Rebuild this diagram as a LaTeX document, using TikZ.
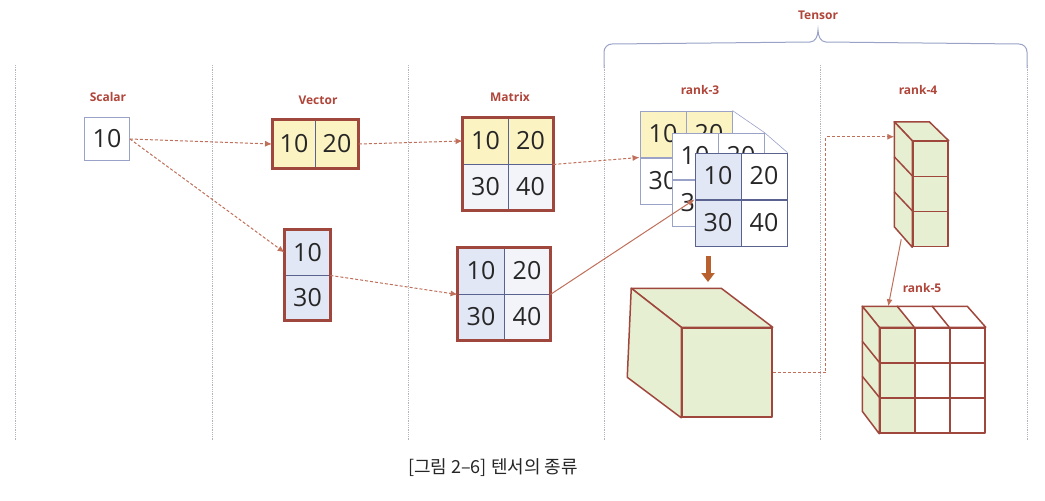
\documentclass[tikz,border=0pt]{standalone}
\usepackage{fontspec}
\setmainfont{Open Sans}
\newfontfamily\kofont{Noto Sans CJK KR}
\usetikzlibrary{arrows.meta,calc}

\definecolor{framec}{HTML}{A0473D}
\definecolor{titlec}{HTML}{B0453A}
\definecolor{cellline}{HTML}{5A6290}
\definecolor{paleline}{HTML}{9AA2C8}
\definecolor{numc}{HTML}{262626}
\definecolor{yel}{HTML}{FBF3C2}
\definecolor{blu}{HTML}{E2E7F6}
\definecolor{pale}{HTML}{F3F4F9}
\definecolor{grn}{HTML}{E6EFD2}
\definecolor{sepc}{HTML}{B4B4BE}
\definecolor{linkc}{HTML}{C0705A}
\definecolor{bigc}{HTML}{B8612F}

\tikzset{
  cell/.style={draw=cellline, line width=0.9pt, inner sep=0pt, minimum width=45pt,
    minimum height=46pt, text=numc, font=\fontsize{25}{25}\selectfont},
  frame/.style={draw=framec, line width=3pt},
  link/.style={draw=linkc, line width=1pt, densely dashed, -{Latex[length=7pt,width=6pt]}},
  title/.style={text=titlec, font=\bfseries\fontsize{12}{12}\selectfont},
  sep/.style={draw=sepc, line width=0.8pt, densely dotted},
  face/.style={draw=framec, line width=1.5pt, line join=round},
  block/.style={face, fill=grn, inner sep=0pt, minimum width=35pt, minimum height=35pt},
  ghost/.style={draw=paleline, line width=0.6pt},
  bigarrow/.style={draw=bigc, line width=5pt, -{Triangle[length=9pt,width=13pt]}}
}

\begin{document}
\begin{tikzpicture}[x=1pt,y=-1pt]
\useasboundingbox[fill=white] (0,0) rectangle (1045,501);

% separators and brace
\draw[sep] (15,65) -- (15,440);
\draw[sep] (212,65) -- (212,440);
\draw[sep] (408,65) -- (408,440);
\draw[sep] (604,65) -- (604,440);
\draw[sep] (820,65) -- (820,440);
\draw[sep] (1027,65) -- (1027,440);
\draw[ghost, line width=1pt] (604,68) -- (604,52) to[out=90,in=180] (612,44) -- (810,42)
  to[out=0,in=-90] (818,30) to[out=-90,in=180] (826,42) -- (1019,44) to[out=0,in=90] (1027,52) -- (1027,68);

% titles
\node[title] (tscalar) at (108,97) {Scalar};
\node[title] (tvector) at (318,100) {Vector};
\node[title] (tmatrix) at (510,97) {Matrix};
\node[title] (ttensor) at (818,15) {Tensor};
\node[title] (trank3) at (700,90) {rank-3};
\node[title] (trank4) at (918,90) {rank-4};
\node[title] (trank5) at (922,288) {rank-5};

% scalar
\node[cell, draw=paleline, minimum height=43pt] (sc) at (107,139) {10};

% vectors
\node[cell, fill=yel, minimum width=43pt, minimum height=48pt] (vh1) at (294,144) {10};
\node[cell, fill=yel, minimum width=43pt, minimum height=48pt] (vh2) at (337,144) {20};
\draw[frame] (vh1.north west) rectangle (vh2.south east);
\node[cell, fill=blu, minimum height=45pt] (vv1) at (307.5,252.5) {10};
\node[cell, fill=blu, minimum height=45pt] (vv2) at (307.5,297.5) {30};
\draw[frame] (vv1.north west) rectangle (vv2.south east);

% matrices
\node[cell, fill=yel] (ma11) at (485.5,141) {10};
\node[cell, fill=yel] (ma12) at (530.5,141) {20};
\node[cell, fill=pale] (ma21) at (485.5,187) {30};
\node[cell, fill=pale] (ma22) at (530.5,187) {40};
\draw[frame] (ma11.north west) rectangle (ma22.south east);
\node[cell, fill=blu, minimum width=46pt] (mb11) at (481,271) {10};
\node[cell, fill=pale, minimum width=46pt] (mb12) at (527,271) {20};
\node[cell, fill=blu, minimum width=46pt] (mb21) at (481,317) {30};
\node[cell, fill=pale, minimum width=46pt] (mb22) at (527,317) {40};
\draw[frame] (mb11.north west) rectangle (mb22.south east);

% rank-3
\node[cell, draw=paleline, fill=yel, minimum width=46pt] (rb11) at (663,134) {10};
\node[cell, draw=paleline, fill=yel, minimum width=46pt] (rb12) at (709,134) {20};
\node[cell, draw=paleline, fill=white, minimum width=46pt] (rb21) at (663,181) {30};
\node[cell, draw=paleline, fill=white, minimum width=46pt] (rb22) at (709,181) {40};
\node[cell, draw=paleline, fill=white, minimum width=46pt] (rm11) at (695,156) {10};
\node[cell, draw=paleline, fill=white, minimum width=46pt] (rm12) at (741,156) {20};
\node[cell, draw=paleline, fill=white, minimum width=46pt] (rm21) at (695,203) {30};
\node[cell, draw=paleline, fill=white, minimum width=46pt] (rm22) at (741,203) {40};
\node[cell, fill=blu, minimum width=46pt] (rf11) at (718,176) {10};
\node[cell, fill=white, minimum width=46pt] (rf12) at (764,176) {20};
\node[cell, fill=blu, minimum width=46pt] (rf21) at (718,223) {30};
\node[cell, fill=white, minimum width=46pt] (rf22) at (764,223) {40};
\draw[ghost] (rb12.north east) -- (rm12.north east) -- (rf12.north east);

% big cube
\node[face, fill=grn, inner sep=0pt, minimum width=90pt, minimum height=89pt] (cube) at (727,372.5) {};
\draw[face, fill=grn] (cube.north west) -- ++(-50,-39) -- ++(90,0) -- (cube.north east) -- cycle;
\draw[face, fill=grn] (cube.north west) -- ++(-50,-39) -- ++(-4,89) -- (cube.south west) -- cycle;
\coordinate (dn1) at (708,256);
\coordinate (dn2) at (708,282);
\draw[bigarrow] (dn1) -- (dn2);

% rank-4
\node[block] (r41) at (930.5,159) {};
\node[block] (r42) at (930.5,194) {};
\node[block] (r43) at (930.5,229) {};
\draw[face, fill=grn] (r41.north west) -- ++(-18,-19) -- ++(35,0) -- (r41.north east) -- cycle;
\draw[face, fill=grn] (r41.north west) -- ++(-18,-19) -- ++(0,105) -- (r43.south west) -- cycle;
\draw[face] (r42.north west) -- ++(-18,-19);
\draw[face] (r43.north west) -- ++(-18,-19);

% rank-5
\node[block] (r511) at (897.5,345.5) {};
\node[block, fill=white] (r512) at (932.5,345.5) {};
\node[block, fill=white] (r513) at (967.5,345.5) {};
\node[block] (r521) at (897.5,380.5) {};
\node[block, fill=white] (r522) at (932.5,380.5) {};
\node[block, fill=white] (r523) at (967.5,380.5) {};
\node[block] (r531) at (897.5,415.5) {};
\node[block, fill=white] (r532) at (932.5,415.5) {};
\node[block, fill=white] (r533) at (967.5,415.5) {};
\draw[face, fill=grn] (r511.north west) -- ++(-17,-21) -- ++(35,0) -- (r511.north east) -- cycle;
\draw[face, fill=white] (r512.north west) -- ++(-17,-21) -- ++(35,0) -- (r512.north east) -- cycle;
\draw[face, fill=white] (r513.north west) -- ++(-17,-21) -- ++(35,0) -- (r513.north east) -- cycle;
\draw[face, fill=grn] (r511.north west) -- ++(-17,-21) -- ++(0,105) -- (r531.south west) -- cycle;
\draw[face] (r521.north west) -- ++(-17,-21);
\draw[face] (r531.north west) -- ++(-17,-21);

% connectors
\coordinate (r4in) at ($(r41.north west)+(-18,-4)$);
\coordinate (r4out) at ($(r43.south west)+(-11,-8)$);
\coordinate (r5in) at ($(r511.north west)+(9,-21)$);
\draw[link] (sc.east) -- (vh1.west);
\draw[link] (sc.east) -- (vv1.west);
\draw[link] (vh2.east) -- (ma11.west);
\draw[link] (vv1.south east) -- (mb11.south west);
\draw[link] (ma12.south east) -- (rb11.south west);
\draw[link, solid] (mb12.south east) -- (rf11.south west);
\draw[link] (cube.east) -- ++(53,0) |- (r4in);
\draw[link, solid] (r4out) -- (r5in);

% caption
\node[font=\kofont\fontsize{18}{18}\selectfont, text=numc] (caption) at (493,468) {[그림 2–6] 텐서의 종류};
\end{tikzpicture}
\end{document}
